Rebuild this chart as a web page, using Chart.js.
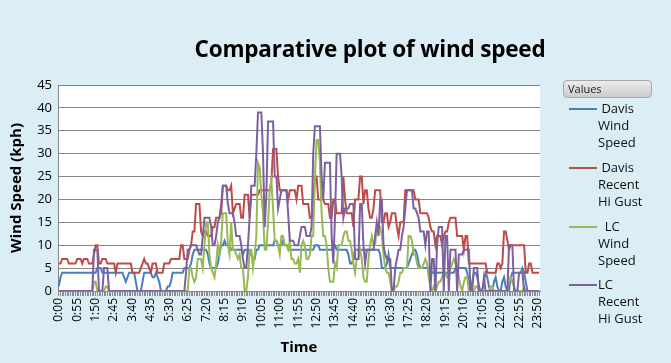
<!DOCTYPE html>
<html>
<head>
<meta charset="utf-8">
<script src="https://cdn.jsdelivr.net/npm/chart.js@4.4.1/dist/chart.umd.min.js"></script>
<style>
  body { margin: 0; background: #dbeef5; }
  #wrap { position: relative; width: 671px; height: 363px; background: #dbeef5; overflow: hidden; }
  #title { position: absolute; left: 160px; width: 420px; top: 33px; text-align: center;
           font: bold 22.5px "Open Sans", sans-serif; color: #000; letter-spacing: -0.2px; }
  #valuesBtn { position: absolute; left: 563px; top: 80px; width: 89px; height: 18px;
               border: 1px solid #a8a8a8; border-radius: 4px;
               background: linear-gradient(#ececec, #cbcbcb);
               font: 11px "Open Sans", sans-serif; line-height: 16px; padding-left: 4px; box-sizing: border-box; color: #222; }
  .item { position: absolute; left: 569px; font: 13px "Open Sans", sans-serif; line-height: 17px; color: #111; }
  .item .swatch { position: absolute; left: 0; top: 8px; width: 28px; height: 2px; }
  .item .txt { position: absolute; left: 29px; top: 0; white-space: pre; }
</style>
</head>
<body>
<div id="wrap">
  <canvas id="chartCanvas" width="671" height="363"></canvas>
  <div id="title">Comparative plot of wind speed</div>
  <div id="valuesBtn">Values</div>
  <div id="legend"></div>
</div>
<script>
// one reading every 5 minutes, 0:00 .. 23:55
const times = [];
for (let m = 0; m < 24 * 60; m += 5) {
  times.push(Math.floor(m / 60) + ':' + String(m % 60).padStart(2, '0'));
}
const labelEvery = 11;

// rows of 12 = one hour each
const davisWind = [
  1,3,4,4,4,4,4,4,4,4,4,4,
  4,4,4,4,4,4,4,4,4,4,4,5,
  5,5,4,4,4,4,4,4,4,4,4,4,
  4,4,4,3,2,3,4,4,4,4,2,0,
  0,0,2,4,4,4,4,4,3,3,4,3,
  2,0,0,0,0,1,1,2,4,4,4,4,
  4,4,4,5,5,5,5,6,8,9,9,9,
  9,9,9,9,9,8,6,5,5,5,5,6,
  8,10,10,11,10,10,10,9,9,9,9,9,
  9,9,8,9,9,9,8,8,7,7,9,9,
  10,10,10,10,10,10,10,10,10,11,11,10,
  10,10,11,10,10,10,9,9,9,9,9,9,
  9,9,9,9,9,9,9,9,9,10,10,10,
  9,9,9,9,9,9,9,9,10,10,9,9,
  9,9,9,9,9,8,6,6,7,9,9,9,
  9,9,9,9,9,9,9,9,9,9,9,9,
  8,5,5,5,6,8,5,5,5,5,5,5,
  5,5,5,5,5,6,7,8,9,9,8,6,
  5,5,5,5,5,5,5,4,4,4,4,4,
  4,4,4,4,4,4,4,4,4,5,5,5,
  5,5,5,5,4,2,0,2,4,4,3,1,
  0,0,2,4,3,1,0,0,2,3,1,0,
  0,2,3,1,0,0,3,4,4,4,4,4,
  4,5,4,2,0,0,0,0,0,0,0,0
];

const davisGust = [
  6,6,7,7,7,7,6,6,6,6,6,7,
  7,7,6,7,7,7,6,6,6,8,10,10,
  6,6,7,7,7,6,6,6,6,6,4,6,
  6,6,6,6,6,6,6,6,4,4,4,4,
  4,5,6,7,6,6,5,4,6,6,6,4,
  4,4,4,6,6,6,6,7,7,7,7,7,
  7,10,10,7,7,7,9,10,13,13,19,19,
  19,13,12,13,13,12,12,12,14,14,16,16,
  16,17,23,23,23,22,22,23,17,18,19,19,
  19,16,16,21,21,21,16,21,21,21,21,21,
  22,22,22,22,22,22,22,24,31,31,31,25,
  22,22,22,22,22,20,22,22,22,22,20,23,
  23,23,19,19,19,19,16,16,19,25,25,20,
  20,20,20,19,19,19,16,16,20,20,17,17,
  17,17,25,20,17,17,17,17,14,20,20,20,
  25,25,19,22,22,18,16,16,18,22,22,22,
  22,15,15,17,17,14,15,17,17,17,14,12,
  15,15,15,22,22,22,22,22,22,20,20,20,
  17,17,17,17,17,16,14,13,13,10,12,12,
  12,10,12,13,13,15,16,16,16,16,12,12,
  12,12,9,12,12,6,6,6,6,6,6,6,
  6,6,6,6,4,4,4,4,4,4,6,6,
  5,6,13,13,11,9,10,10,10,10,10,10,
  10,10,10,4,4,6,6,4,4,4,4,4
];

const lcWind = [
  0,0,0,0,0,0,0,0,0,0,0,0,
  0,0,0,0,0,0,0,0,0,2,2,0,
  0,0,0,0,1,1,0,0,0,0,0,0,
  0,0,0,0,0,0,0,0,0,0,0,0,
  0,0,0,0,0,0,0,0,0,0,0,0,
  0,0,0,0,0,0,0,0,0,0,0,0,
  0,0,0,0,0,0,5,5,3,2,3,7,
  7,7,5,10,15,15,8,5,4,3,6,10,
  8,11,17,17,17,10,8,15,9,9,8,7,
  8,5,5,0,0,3,9,9,5,8,12,28,
  27,21,17,9,9,15,22,24,18,11,11,10,
  8,12,12,10,10,9,11,7,7,6,6,7,
  4,10,11,10,7,7,8,12,12,25,33,33,
  28,17,12,12,10,5,2,2,2,6,5,10,
  10,10,12,13,13,11,11,9,6,4,7,7,
  9,7,3,2,2,7,10,12,10,10,14,14,
  14,12,8,5,4,4,2,0,0,1,1,2,
  4,4,5,5,5,12,12,11,8,8,6,5,
  5,5,6,7,6,3,1,0,1,0,1,2,
  2,3,4,4,3,3,5,6,7,6,5,3,
  1,0,2,3,3,0,0,0,0,1,1,0,
  0,0,0,0,0,0,1,1,0,0,0,0,
  0,0,0,0,0,2,3,2,1,0,0,0,
  0,0,1,0,0,0,0,0,0,0,0,0
];

const lcGust = [
  0,0,0,0,0,0,0,0,0,0,0,0,
  0,0,0,0,0,0,0,0,0,9,9,9,
  0,0,0,5,5,5,0,0,0,0,0,0,
  0,0,0,0,0,0,0,0,0,0,0,0,
  0,0,0,0,0,0,0,0,0,0,0,0,
  0,0,0,0,0,0,0,0,0,0,0,0,
  0,0,0,0,4,9,9,10,10,10,10,9,
  8,8,12,16,16,16,16,14,10,10,12,15,
  16,19,23,23,23,19,17,17,17,15,12,12,
  12,10,7,5,5,10,16,23,23,23,30,39,
  39,39,30,14,21,37,37,37,37,25,25,18,
  20,22,22,22,22,17,11,11,11,10,10,10,
  12,14,14,14,12,12,12,14,30,36,36,36,
  36,25,20,28,28,28,28,12,6,16,30,30,
  30,25,16,18,18,18,19,19,19,7,7,7,
  19,19,10,6,9,9,9,9,9,12,15,12,
  20,20,10,8,7,7,7,0,0,5,7,9,
  9,12,14,18,22,22,22,22,18,18,17,16,
  13,13,13,10,13,13,0,7,7,0,10,14,
  14,14,0,12,12,0,9,9,9,9,0,8,
  8,8,9,9,9,9,0,0,5,5,5,0,
  0,0,3,0,0,0,0,0,0,0,0,0,
  0,0,0,0,0,10,10,10,0,0,0,4,
  4,4,0,0,0,0,0,0,0,0,0,0
];

const seriesNames = ['Davis\nWind\nSpeed', 'Davis\nRecent\nHi Gust', 'LC\nWind\nSpeed', 'LC\nRecent\nHi Gust'];
const seriesColors = ['#4a7ebb', '#be4b48', '#98b954', '#7d60a0'];
const seriesData = [davisWind, davisGust, lcWind, lcGust];

// html legend on the right
const legendTops = [100, 159, 218, 276];
const legendIndent = [' ', ' ', '  ', ''];
const legendEl = document.getElementById('legend');
seriesNames.forEach((name, i) => {
  const lines = name.split('\n');
  lines[0] = legendIndent[i] + lines[0];
  const item = document.createElement('div');
  item.className = 'item';
  item.style.top = legendTops[i] + 'px';
  item.innerHTML = '<div class="swatch" style="background:' + seriesColors[i] + '"></div>' +
    '<div class="txt">' + lines.join('\n') + '</div>';
  legendEl.appendChild(item);
});

const plotBg = {
  id: 'plotBg',
  beforeDraw(chart) {
    const a = chart.chartArea;
    const c = chart.ctx;
    c.save();
    c.fillStyle = '#ffffff';
    c.fillRect(a.left, a.top, a.right - a.left, a.bottom - a.top);
    c.restore();
  }
};

const ctx = document.getElementById('chartCanvas').getContext('2d');
new Chart(ctx, {
  type: 'line',
  data: {
    labels: times,
    datasets: seriesData.map((d, i) => ({
      label: seriesNames[i].replace(/\n/g, ' '),
      data: d,
      borderColor: seriesColors[i],
      backgroundColor: seriesColors[i],
      borderWidth: 2,
      pointRadius: 0,
      tension: 0,
      order: 3 - i
    }))
  },
  options: {
    responsive: false,
    animation: false,
    devicePixelRatio: 1,
    layout: { padding: { left: 8, right: 131, top: 85, bottom: 6 } },
    plugins: { legend: { display: false }, tooltip: { enabled: false }, title: { display: false } },
    scales: {
      x: {
        offset: true,
        afterFit: s => { s.height = 66; },
        ticks: {
          autoSkip: false, minRotation: 90, maxRotation: 90, padding: 2,
          color: '#000', font: { family: 'Open Sans', size: 12 },
          callback: (v, i) => (i % labelEvery === 0 ? times[i] : '')
        },
        grid: { drawOnChartArea: false, drawTicks: true, tickLength: 5, color: '#8c8c8c' },
        border: { color: '#868686' },
        title: { display: true, text: 'Time', color: '#000', padding: { top: 0, bottom: 0 },
                 font: { family: 'Open Sans', size: 15, weight: 'bold' } }
      },
      y: {
        min: 0, max: 45,
        afterFit: s => { s.width = 50; },
        ticks: { stepSize: 5, padding: 6, color: '#000', font: { family: 'Open Sans', size: 13 } },
        grid: { color: '#868686', drawTicks: false },
        border: { color: '#868686' },
        title: { display: true, text: 'Wind Speed (kph)', color: '#000', padding: { top: 0, bottom: 0 },
                 font: { family: 'Open Sans', size: 15, weight: 'bold' } }
      }
    }
  },
  plugins: [plotBg]
});
</script>
</body>
</html>
